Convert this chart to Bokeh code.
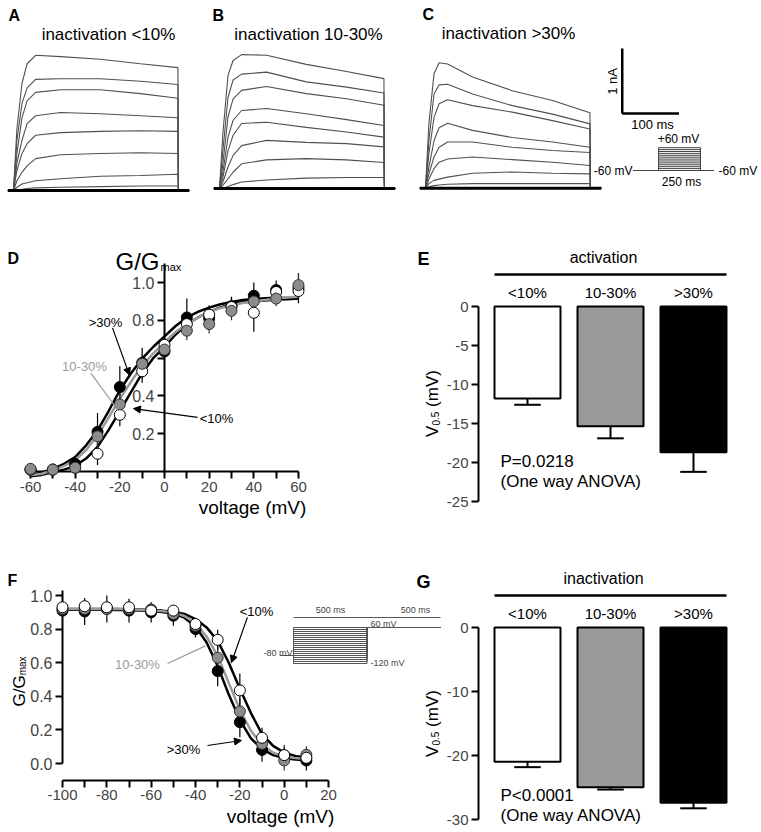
from bokeh.plotting import figure
from bokeh.models import (Range1d, LinearAxis, FixedTicker, Label, Arrow, NormalHead)
from bokeh.embed import file_html
from bokeh.resources import INLINE

FONT = "Liberation Sans"

# ======================= DATA =======================
# Panels A-C: whole-cell currents (nA) sampled at these times (ms)
trace_t = [-10, 0, 6, 15, 24, 39, 83, 153, 224, 290, 291, 310]
baseline_nA = [0, 0, 0, 0, 0, 0, 0, 0, 0, 0, 0, 0]
traces_lt10 = [
    [0, 0, 0.95, 1.65, 1.95, 2.08, 2.06, 2.02, 1.95, 1.89, 0, 0],
    [0, 0, 0.77, 1.34, 1.58, 1.71, 1.72, 1.72, 1.68, 1.63, 0, 0],
    [0, 0, 0.57, 1.12, 1.38, 1.51, 1.55, 1.55, 1.49, 1.42, 0, 0],
    [0, 0, 0.42, 0.77, 1.03, 1.15, 1.20, 1.18, 1.15, 1.12, 0, 0],
    [0, 0, 0.31, 0.57, 0.72, 0.85, 0.89, 0.91, 0.92, 0.91, 0, 0],
    [0, 0, 0.15, 0.28, 0.38, 0.49, 0.55, 0.57, 0.58, 0.57, 0, 0],
    [0, 0, 0.05, 0.10, 0.12, 0.15, 0.18, 0.22, 0.23, 0.25, 0, 0],
    [0, 0, 0.01, 0.02, 0.03, 0.04, 0.05, 0.06, 0.07, 0.07, 0, 0],
]
traces_10_30 = [
    [0, 0, 0.85, 1.74, 1.97, 2.06, 2.05, 1.91, 1.80, 1.69, 0, 0],
    [0, 0, 0.58, 1.40, 1.67, 1.76, 1.79, 1.64, 1.56, 1.47, 0, 0],
    [0, 0, 0.38, 1.10, 1.38, 1.51, 1.57, 1.46, 1.38, 1.28, 0, 0],
    [0, 0, 0.25, 0.79, 1.05, 1.20, 1.23, 1.15, 1.06, 0.97, 0, 0],
    [0, 0, 0.17, 0.58, 0.82, 1.00, 1.02, 0.94, 0.87, 0.79, 0, 0],
    [0, 0, 0.10, 0.33, 0.51, 0.66, 0.74, 0.71, 0.69, 0.64, 0, 0],
    [0, 0, 0.05, 0.15, 0.25, 0.38, 0.44, 0.46, 0.44, 0.40, 0, 0],
    [0, 0, 0.00, 0.03, 0.06, 0.10, 0.13, 0.16, 0.17, 0.17, 0, 0],
]
traces_gt30 = [
    [0, 0, 0.99, 1.76, 1.93, 1.91, 1.71, 1.50, 1.35, 1.16, 0, 0],
    [0, 0, 0.73, 1.45, 1.59, 1.60, 1.45, 1.27, 1.14, 0.99, 0, 0],
    [0, 0, 0.53, 1.09, 1.30, 1.36, 1.27, 1.17, 1.04, 0.91, 0, 0],
    [0, 0, 0.32, 0.73, 0.93, 1.00, 0.89, 0.78, 0.71, 0.63, 0, 0],
    [0, 0, 0.22, 0.48, 0.63, 0.71, 0.71, 0.63, 0.58, 0.55, 0, 0],
    [0, 0, 0.14, 0.30, 0.40, 0.45, 0.48, 0.44, 0.40, 0.35, 0, 0],
    [0, 0, 0.07, 0.12, 0.14, 0.17, 0.23, 0.25, 0.23, 0.22, 0, 0],
    [0, 0, 0.02, 0.04, 0.05, 0.06, 0.07, 0.07, 0.07, 0.07, 0, 0],
]
scale_ms, scale_nA = 100, 1

# activation protocol
act_steps_mV = [-60, -50, -40, -30, -20, -10, 0, 10, 20, 30, 40, 50, 60]
act_hold_mV = -60
act_pre_ms, act_step_ms, act_post_ms = 150, 250, 77

# Panel D: activation G/Gmax
act_v = [-60, -50, -40, -30, -20, -10, 0, 10, 20, 30, 40, 50, 60]
act_lt10 = [0.01, 0.01, 0.02, 0.094, 0.30, 0.53, 0.67, 0.78, 0.83, 0.87, 0.84, 0.95, 0.955]
act_lt10_err = [0.01, 0.01, 0.02, 0.06, 0.06, 0.06, 0.04, 0.05, 0.05, 0.05, 0.10, 0.04, 0.04]
act_10_30 = [0.014, 0.01, 0.02, 0.186, 0.355, 0.57, 0.645, 0.745, 0.78, 0.85, 0.90, 0.915, 0.986]
act_10_30_err = [0.01, 0.01, 0.02, 0.06, 0.06, 0.05, 0.03, 0.05, 0.05, 0.05, 0.05, 0.04, 0.06]
act_gt30 = [0.01, 0.01, 0.04, 0.21, 0.447, 0.575, 0.635, 0.815, 0.81, 0.875, 0.93, 0.96, 0.97]
act_gt30_err = [0.01, 0.01, 0.02, 0.10, 0.11, 0.08, 0.03, 0.10, 0.05, 0.05, 0.07, 0.05, 0.08]
# Boltzmann fit curves
act_fit_v = [-60, -55, -50, -45, -40, -35, -30, -25, -20, -15, -10, -5, 0,
             5, 10, 15, 20, 25, 30, 35, 40, 45, 50, 55, 60]
act_fit_gt30 = [-0.02, -0.005, 0.014, 0.04, 0.076, 0.14, 0.217, 0.32, 0.43, 0.52, 0.597, 0.66, 0.715,
                0.77, 0.815, 0.845, 0.867, 0.885, 0.897, 0.907, 0.913, 0.917, 0.919, 0.918, 0.916]
act_fit_10_30 = [-0.02, -0.012, 0.005, 0.03, 0.06, 0.115, 0.19, 0.285, 0.385, 0.475, 0.56, 0.625, 0.685,
                 0.738, 0.78, 0.815, 0.845, 0.865, 0.88, 0.892, 0.90, 0.908, 0.915, 0.92, 0.925]
act_fit_lt10 = [-0.025, -0.018, -0.004, 0.01, 0.03, 0.07, 0.13, 0.22, 0.32, 0.42, 0.52, 0.60, 0.66,
                0.725, 0.78, 0.815, 0.845, 0.868, 0.885, 0.895, 0.90, 0.905, 0.91, 0.912, 0.915]

# Panels E, G: V0.5 (mV)
groups = ["<10%", "10-30%", ">30%"]
act_v05 = [-11.8, -15.35, -18.7]
act_v05_sem = [0.8, 1.55, 2.5]
inact_v05 = [-20.97, -24.97, -27.4]
inact_v05_sem = [0.85, 0.35, 0.85]

# Panel F: steady-state inactivation
inact_v = [-100, -90, -80, -70, -60, -50, -40, -30, -20, -10, 0, 10]
inact_lt10 = [0.93, 0.936, 0.93, 0.93, 0.91, 0.91, 0.83, 0.736, 0.435, 0.153, 0.05, 0.034]
inact_lt10_err = [0.02, 0.03, 0.03, 0.03, 0.03, 0.03, 0.03, 0.06, 0.10, 0.06, 0.04, 0.05]
inact_10_30 = [0.92, 0.92, 0.92, 0.92, 0.917, 0.89, 0.82, 0.63, 0.31, 0.117, 0.018, 0.052]
inact_10_30_err = [0.02, 0.03, 0.03, 0.03, 0.03, 0.03, 0.03, 0.07, 0.08, 0.05, 0.06, 0.05]
inact_gt30 = [0.91, 0.905, 0.92, 0.91, 0.90, 0.88, 0.80, 0.55, 0.246, 0.081, 0.048, 0.018]
inact_gt30_err = [0.02, 0.08, 0.08, 0.07, 0.06, 0.06, 0.05, 0.09, 0.09, 0.07, 0.06, 0.06]
inact_fit_v = [-100, -95, -90, -85, -80, -75, -70, -65, -60, -55, -50, -45, -40,
               -35, -30, -25, -20, -15, -10, -5, 0, 5, 10]
inact_fit_lt10 = [0.92, 0.92, 0.92, 0.92, 0.92, 0.92, 0.918, 0.916, 0.913, 0.91, 0.903, 0.89, 0.86,
                  0.81, 0.73, 0.60, 0.445, 0.30, 0.175, 0.105, 0.065, 0.045, 0.035]
inact_fit_10_30 = [0.92, 0.92, 0.92, 0.92, 0.92, 0.92, 0.918, 0.915, 0.912, 0.907, 0.898, 0.878, 0.835,
                   0.755, 0.64, 0.48, 0.32, 0.195, 0.11, 0.065, 0.042, 0.032, 0.027]
inact_fit_gt30 = [0.915, 0.915, 0.915, 0.915, 0.915, 0.914, 0.912, 0.91, 0.907, 0.902, 0.892, 0.868, 0.815,
                  0.72, 0.58, 0.41, 0.26, 0.15, 0.085, 0.05, 0.032, 0.024, 0.02]

# inactivation protocol (inset)
pre_mV = [-120, -110, -100, -90, -80, -70, -60, -50, -40, -30, -20, -10, 0, 10, 20, 30, 40, 50, 60]
inset_hold_mV, inset_test_mV = -80, 60
inset_hold_ms, inset_pre_ms, inset_test_ms = 90, 500, 500

# axis ticks
d_xticks = [-60, -50, -40, -30, -20, -10, 0, 10, 20, 30, 40, 50, 60]
d_yticks = [0.2, 0.4, 0.6, 0.8, 1.0]
e_yticks = [0, -5, -10, -15, -20, -25]
g_yticks = [0, -10, -20, -30]
f_xticks = [-100, -90, -80, -70, -60, -50, -40, -30, -20, -10, 0, 10, 20]
f_yticks = [0, 0.2, 0.4, 0.6, 0.8, 1.0]

# ======================= FIGURE =======================
W, H = 760, 830


def xr(px0, v0, ppu):
    return Range1d(start=v0 - px0 / ppu, end=v0 + (W - px0) / ppu)


def yr(py0, v0, ppu):
    return Range1d(start=v0 - (H - py0) / ppu, end=v0 + py0 / ppu)


p = figure(width=W, height=H, output_backend="svg", toolbar_location=None,
           x_axis_type=None, y_axis_type=None, min_border=0,
           x_range=Range1d(0, W), y_range=Range1d(H, 0))
p.outline_line_color = None
p.background_fill_color = "white"
p.border_fill_color = "white"

p.extra_x_ranges = {
    "ax": xr(13, 0, 0.567), "bx": xr(219, 0, 0.567), "cx": xr(425, 0, 0.567),
    "px": xr(658, 0, 0.168),
    "dx": xr(164, 0, 2.233), "ex": xr(527, 0, 83),
    "fx": xr(62, -100, 2.217), "ix": xr(293, 0, 0.147),
}
p.extra_y_ranges = {
    "ay": yr(190, 0, 65), "by": yr(188, 0, 65), "cy": yr(187.7, 0, 65),
    "py": yr(170, -60, 0.19),
    "dy": yr(471, 0, 189), "ey": yr(306, 0, 7.8),
    "fy": yr(763, 0, 168), "gy": yr(627, 0, 6.4), "iy": yr(627, 60, 0.2),
}


def text(x, y, s, size, align="center", baseline="middle", color="black",
         bold=False, angle=0.0):
    p.add_layout(Label(x=x, y=y, text=s, text_font=FONT, text_font_size=f"{size}px",
                       text_align=align, text_baseline=baseline, text_color=color,
                       text_font_style="bold" if bold else "normal", angle=angle))


def axis(side, xn, yn, loc, bounds, ticks, every=1, decimals=0, blank=(), size=15):
    ax = LinearAxis(x_range_name=xn, y_range_name=yn, fixed_location=loc, bounds=bounds,
                    ticker=FixedTicker(ticks=ticks, minor_ticks=[]))
    ax.axis_line_width = 2
    ax.major_tick_line_width = 2
    ax.major_tick_out = 7
    ax.major_tick_in = 0
    ax.minor_tick_line_color = None
    ax.major_label_text_font = FONT
    ax.major_label_text_font_size = f"{size}px"
    ax.major_label_standoff = 3
    ax.level = "underlay"
    labels = {}
    for i, t in enumerate(ticks):
        s = f"{t:.{decimals}f}"
        labels[t] = "" if (i % every or t in blank) else s
    ax.major_label_overrides = labels
    p.add_layout(ax, side)


def arrow(x0, y0, x1, y1, xn, yn, color="black", head=True):
    p.add_layout(Arrow(x_start=x0, y_start=y0, x_end=x1, y_end=y1,
                       x_range_name=xn, y_range_name=yn, line_color=color, line_width=1.2,
                       end=NormalHead(size=7, fill_color=color, line_color=color) if head else None))


# ---------- Row 1: current traces ----------
for traces, xn, yn in [(traces_lt10, "ax", "ay"), (traces_10_30, "bx", "by"), (traces_gt30, "cx", "cy")]:
    p.multi_line(xs=[trace_t] * len(traces), ys=traces, line_color="#505050", line_width=1.1,
                 x_range_name=xn, y_range_name=yn)
    p.line(trace_t, baseline_nA, line_color="black", line_width=3, x_range_name=xn, y_range_name=yn)

text(8, 15, "A", 16, align="left", bold=True)
text(212, 15, "B", 16, align="left", bold=True)
text(422, 14, "C", 16, align="left", bold=True)
text(108, 34, "inactivation <10%", 17)
text(308, 34, "inactivation 10-30%", 17)
text(508, 33, "inactivation >30%", 17)

# scale bar (in panel C units)
sb_t, sb_i = 347, 1.15
p.line([sb_t, sb_t], [sb_i, sb_i + scale_nA], line_color="black", line_width=2.5,
       x_range_name="cx", y_range_name="cy")
p.line([sb_t, sb_t + scale_ms], [sb_i, sb_i], line_color="black", line_width=2.5,
       x_range_name="cx", y_range_name="cy")
text(612, 81, "1 nA", 13, angle=1.5708)
text(652, 124, "100 ms", 13)

# activation protocol
prot_xs = [[-act_pre_ms, 0, 0, act_step_ms, act_step_ms, act_step_ms + act_post_ms] for _ in act_steps_mV]
prot_ys = [[act_hold_mV, act_hold_mV, v, v, act_hold_mV, act_hold_mV] for v in act_steps_mV]
p.multi_line(xs=prot_xs, ys=prot_ys, line_color="#444444", line_width=1,
             x_range_name="px", y_range_name="py")
text(678, 138, "+60 mV", 12)
text(632, 170, "-60 mV", 12, align="right")
text(718, 170, "-60 mV", 12, align="left")
text(681, 181, "250 ms", 12)

# ---------- Panel D ----------
axis("below", "dx", "dy", 0, (-61.5, 60), d_xticks, every=2)
axis("left", "dx", "dy", 0, (0, 1.1), d_yticks, decimals=1, blank=(0.6,), size=16)

GRAY_LINE = "#9a9a9a"
GRAY_FILL = "#8c8c8c"
p.line(act_fit_v, act_fit_lt10, line_color="black", line_width=2.5, x_range_name="dx", y_range_name="dy")
p.line(act_fit_v, act_fit_gt30, line_color="black", line_width=2.5, x_range_name="dx", y_range_name="dy")
p.line(act_fit_v, act_fit_10_30, line_color=GRAY_LINE, line_width=2.5, x_range_name="dx", y_range_name="dy")

series_d = [(act_gt30, act_gt30_err, "black", "black"),
            (act_lt10, act_lt10_err, "white", "black"),
            (act_10_30, act_10_30_err, GRAY_FILL, "#333333")]
for ys, es, fc, lc in series_d:
    p.segment(x0=act_v, x1=act_v, y0=[y - e for y, e in zip(ys, es)], y1=[y + e for y, e in zip(ys, es)],
              line_color=lc, line_width=1.2, x_range_name="dx", y_range_name="dy")
for ys, es, fc, lc in series_d:
    p.scatter(act_v, ys, marker="circle", size=11, fill_color=fc, line_color=lc, line_width=1,
              x_range_name="dx", y_range_name="dy")

text(7, 258, "D", 16, align="left", bold=True)
text(159, 261, "G/G", 24, align="right", baseline="alphabetic")
text(160, 266, "max", 11, align="left", baseline="alphabetic")
text(105, 322, ">30%", 13)
arrow(-23.3, 0.76, -15.7, 0.51, "dx", "dy")
text(84, 366, "10-30%", 13, color=GRAY_LINE)
arrow(-33, 0.52, -20.6, 0.32, "dx", "dy", color=GRAY_LINE, head=False)
text(216, 418, "<10%", 13)
arrow(14.8, 0.286, -13.9, 0.333, "dx", "dy")
text(252, 507, "voltage (mV)", 19)

# ---------- Bars (E and G) ----------
BAR_FILLS = ["white", "#9a9a9a", "black"]
bar_w = 0.795
xs_bar = [0, 1, 2]


def bars(vals, sems, yn, ticks, bounds, label_y, title, title_y, bracket_v, p_text, p_y):
    axis("left", "ex", yn, -0.59, bounds, ticks)
    p.vbar(x=xs_bar, width=bar_w, top=0, bottom=vals, fill_color=BAR_FILLS, line_color="black",
           line_width=2, x_range_name="ex", y_range_name=yn)
    lo = [v - s for v, s in zip(vals, sems)]
    p.segment(x0=xs_bar, x1=xs_bar, y0=vals, y1=lo, line_color="black", line_width=2,
              x_range_name="ex", y_range_name=yn)
    p.segment(x0=[x - 0.16 for x in xs_bar], x1=[x + 0.16 for x in xs_bar], y0=lo, y1=lo,
              line_color="black", line_width=2, x_range_name="ex", y_range_name=yn)
    p.line([xs_bar[0] - bar_w / 2, xs_bar[-1] + bar_w / 2], [bracket_v, bracket_v],
           line_color="black", line_width=2.5, x_range_name="ex", y_range_name=yn)
    for cx, g in zip([527, 610, 693], groups):
        text(cx, label_y, g, 15)
    text(603, title_y, title, 16)
    text(500, p_y, p_text, 17, align="left")
    text(500, p_y + 20, "(One way ANOVA)", 17, align="left")


bars(act_v05, act_v05_sem, "ey", e_yticks, (-25, 0), 292, "activation", 257, 4.1,
     "P=0.0218", 461)
bars(inact_v05, inact_v05_sem, "gy", g_yticks, (-30, 0), 613, "inactivation", 578, 5.0,
     "P<0.0001", 795)
text(423, 258, "E", 18, bold=True)
text(423, 581, "G", 18, bold=True)


def vlabel(cy):
    f, fs = 17, 10
    wV, wsub, wsp = 0.667 * f, 1.39 * fs, 0.278 * f
    y0 = cy + (wV + wsub + wsp + 2.166 * f) / 2
    text(432, y0, "V", f, align="left", baseline="alphabetic", angle=1.5708)
    text(435, y0 - wV, "0.5", fs, align="left", baseline="alphabetic", angle=1.5708)
    text(432, y0 - wV - wsub - wsp, "(mV)", f, align="left", baseline="alphabetic", angle=1.5708)


vlabel(403)
vlabel(723)

# ---------- Panel F ----------
axis("below", "fx", "fy", -0.101, (-100, 20), f_xticks, every=2)
axis("left", "fx", "fy", -100, (0, 1.03), f_yticks, decimals=1, size=16)

p.line(inact_fit_v, inact_fit_lt10, line_color="black", line_width=2.5, x_range_name="fx", y_range_name="fy")
p.line(inact_fit_v, inact_fit_gt30, line_color="black", line_width=2.5, x_range_name="fx", y_range_name="fy")
p.line(inact_fit_v, inact_fit_10_30, line_color=GRAY_LINE, line_width=2.5, x_range_name="fx", y_range_name="fy")
series_f = [(inact_gt30, inact_gt30_err, "black", "black"),
            (inact_10_30, inact_10_30_err, GRAY_FILL, "#333333"),
            (inact_lt10, inact_lt10_err, "white", "black")]
for ys, es, fc, lc in series_f:
    p.segment(x0=inact_v, x1=inact_v, y0=[y - e for y, e in zip(ys, es)], y1=[y + e for y, e in zip(ys, es)],
              line_color=lc, line_width=1.2, x_range_name="fx", y_range_name="fy")
for ys, es, fc, lc in series_f:
    p.scatter(inact_v, ys, marker="circle", size=11, fill_color=fc, line_color=lc, line_width=1,
              x_range_name="fx", y_range_name="fy")

text(7, 580, "F", 16, align="left", bold=True)
text(19, 706, "G/G", 17, align="left", baseline="alphabetic", angle=1.5708)
text(22, 706 - 1.834 * 17, "max", 10, align="left", baseline="alphabetic", angle=1.5708)
text(256, 611, "<10%", 13)
arrow(-16.6, 0.87, -23.8, 0.60, "fx", "fy")
text(137, 664, "10-30%", 13, color=GRAY_LINE)
arrow(-52.6, 0.595, -35.5, 0.70, "fx", "fy", color=GRAY_LINE, head=False)
text(183, 749, ">30%", 13)
arrow(-34.6, 0.107, -19.3, 0.137, "fx", "fy")
text(280, 816, "voltage (mV)", 19)

# inset: inactivation protocol
ins_xs = [[-inset_hold_ms, 0, 0, inset_pre_ms, inset_pre_ms, inset_pre_ms + inset_test_ms] for _ in pre_mV]
ins_ys = [[inset_hold_mV, inset_hold_mV, v, v, inset_test_mV, inset_test_mV] for v in pre_mV]
p.multi_line(xs=ins_xs, ys=ins_ys, line_color="#555555", line_width=1, x_range_name="ix", y_range_name="iy")
p.line([0, inset_pre_ms + inset_test_ms], [inset_test_mV + 50, inset_test_mV + 50], line_color="#555555",
       line_width=1, x_range_name="ix", y_range_name="iy")
text(330, 609, "500 ms", 9, color="#444444")
text(415, 609, "500 ms", 9, color="#444444")
text(370, 623, "60 mV", 9, align="left", color="#444444")
text(370, 662, "-120 mV", 9, align="left", color="#444444")
text(292, 652, "-80 mV", 9, align="right", color="#444444")

open("out.html", "w").write(file_html(p, INLINE))
